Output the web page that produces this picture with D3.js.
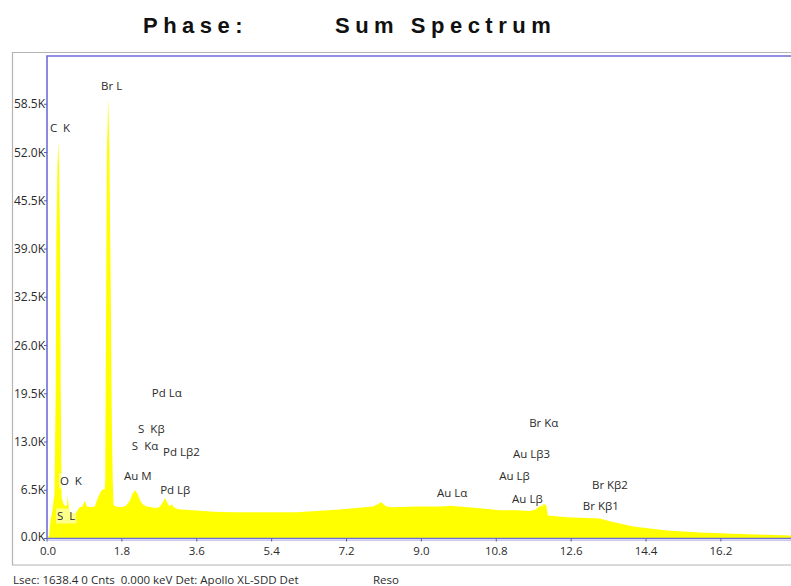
<!DOCTYPE html>
<html>
<head>
<meta charset="utf-8">
<script src="https://cdn.jsdelivr.net/npm/d3@7/dist/d3.min.js"></script>
<style>
  html, body { margin: 0; padding: 0; background: #fff; }
  svg { display: block; }
</style>
</head>
<body>
<svg id="chart" width="791" height="586"></svg>
<script>
// ---- Data ----
// Spectrum: energy in keV, counts
const energyKeV = [0.00, 0.05, 0.08, 0.13, 0.18, 0.21, 0.225, 0.25, 0.27, 0.29, 0.315, 0.33, 0.35,
  0.40, 0.45, 0.48, 0.50, 0.52, 0.55, 0.60, 0.70, 0.78, 0.85, 0.91, 0.96, 1.05, 1.15, 1.23, 1.31, 1.39,
  1.40, 1.42, 1.44, 1.47, 1.50, 1.53, 1.56, 1.58, 1.60, 1.65, 1.80, 1.90, 2.00, 2.05, 2.12, 2.18, 2.25,
  2.32, 2.40, 2.50, 2.60, 2.70, 2.78, 2.84, 2.90, 2.95, 3.00, 3.05, 3.15, 3.50, 4.00, 4.50, 5.00, 6.00,
  7.04, 7.30, 7.84, 8.04, 8.15, 8.30, 8.90, 9.50, 9.70, 9.90, 10.48, 10.89, 11.30, 11.60, 11.75, 11.85,
  11.92, 12.00, 12.04, 12.50, 13.29, 13.53, 14.09, 14.90, 15.70, 16.50, 17.30, 17.86, 18.00];
const counts = [0, 300, 2200, 3800, 6000, 20000, 40000, 50000, 53400, 50000, 40000, 20000, 5500,
  4600, 4300, 4500, 5800, 4400, 3600, 3400, 3500, 4200, 4300, 5100, 4300, 4200, 4300, 5600, 6500, 6700,
  8000, 30000, 52000, 59300, 52000, 35000, 15000, 8000, 4500, 4300, 4200, 4400, 5200, 6000, 6500, 6000, 5000,
  4500, 4300, 4200, 4100, 4200, 4800, 5500, 4700, 4300, 4600, 4200, 3950, 3800, 3600, 3550, 3550, 3550,
  3900, 4050, 4300, 4900, 4300, 4200, 4300, 4300, 4400, 4300, 4050, 3800, 3800, 3700, 3900, 4400,
  4650, 4500, 3100, 2870, 2700, 2330, 1620, 1080, 810, 630, 500, 400, 380];

// Peak labels: text, keV at label start, counts at label middle
const peakLabels = ["Br L", "C  K", "Pd Lα", "S  Kβ", "S  Kα", "Pd Lβ2", "Au M", "Pd Lβ", "O  K", "S  L",
  "Au Lα", "Au Lβ", "Au Lβ", "Au Lβ3", "Br Kα", "Br Kβ2", "Br Kβ1"];
const labelKeV = [1.30, 0.07, 2.52, 2.19, 2.04, 2.79, 1.85, 2.72, 0.31, 0.24,
  9.375, 11.18, 10.87, 11.20, 11.59, 13.10, 12.88];
const labelCounts = [60900, 55300, 19560, 14700, 12410, 11600, 8360, 6475, 7690, 2970,
  6070, 5260, 8360, 11330, 15510, 7150, 4320];

const xTicks = [0.0, 1.8, 3.6, 5.4, 7.2, 9.0, 10.8, 12.6, 14.4, 16.2];
const yTicks = [0, 6500, 13000, 19500, 26000, 32500, 39000, 45500, 52000, 58500];

const titleParts = ["Phase:", "Sum Spectrum"];
const footerParts = ["Lsec: 1638.4 0 Cnts  0.000 keV Det: Apollo XL-SDD Det", "Reso"];

// ---- Layout ----
const svg = d3.select("#chart");
const plotL = 47, plotT = 56, plotB = 538.5;
const x = d3.scaleLinear().domain([0, 18]).range([plotL, plotL + 18 * 41.6]);
const y = d3.scaleLinear().domain([0, 65000]).range([plotB, plotT]);

const blue = "#6e6ed6";
const textCol = "#2b2b2b";
const font = "'Open Sans', 'Noto Sans', sans-serif";

svg.append("rect").attr("width", 791).attr("height", 586).attr("fill", "#fff");

// Title
svg.append("text").attr("x", 143).attr("y", 33)
  .attr("font-family", "'Liberation Sans', Arial, sans-serif").attr("font-weight", "bold")
  .attr("font-size", 22).attr("letter-spacing", 5.5).attr("fill", "#111").text(titleParts[0]);
svg.append("text").attr("x", 335).attr("y", 33)
  .attr("font-family", "'Liberation Sans', Arial, sans-serif").attr("font-weight", "bold")
  .attr("font-size", 22).attr("letter-spacing", 5.5).attr("fill", "#111").text(titleParts[1]);

// Outer gray box
svg.append("path").attr("d", "M800,52.5 H12.5 V565 H800")
  .attr("fill", "none").attr("stroke", "#b4b4b4").attr("stroke-width", 1.2);

// Spectrum fill
const pts = energyKeV.map((e, i) => [e, counts[i]]);
const area = d3.area().x(d => x(d[0])).y0(y(0)).y1(d => y(d[1])).curve(d3.curveLinear);
svg.append("path").datum(pts).attr("d", area).attr("fill", "#ffff00").attr("stroke", "none");

// Plot frame
svg.append("path").attr("d", `M800,${plotT} H${plotL} V${plotB} H800`)
  .attr("fill", "none").attr("stroke", blue).attr("stroke-width", 1.6);
svg.append("line").attr("x1", plotL).attr("x2", 800).attr("y1", plotB + 2).attr("y2", plotB + 2)
  .attr("stroke", "#c9c9ef").attr("stroke-width", 1);

// X axis ticks & labels
const xa = svg.append("g");
xa.selectAll("line").data(xTicks).join("line")
  .attr("x1", d => x(d)).attr("x2", d => x(d)).attr("y1", plotB).attr("y2", plotB + 3)
  .attr("stroke", "#5a5aa8").attr("stroke-width", 1);
xa.selectAll("text").data(xTicks).join("text")
  .attr("x", d => x(d) + (d === 0 ? 1 : 0)).attr("y", plotB + 16).attr("text-anchor", "middle")
  .attr("font-family", font).attr("font-size", 11.5).attr("fill", textCol)
  .text(d => d.toFixed(1));

// Y axis ticks & labels
const ya = svg.append("g");
ya.selectAll("line").data(yTicks).join("line")
  .attr("x1", plotL - 3).attr("x2", plotL).attr("y1", d => y(d)).attr("y2", d => y(d))
  .attr("stroke", "#5a5aa8").attr("stroke-width", 1);
ya.selectAll("text").data(yTicks).join("text")
  .attr("x", plotL - 2).attr("y", d => y(d) - (d === 0 ? 1.5 : 0)).attr("dy", "0.35em").attr("text-anchor", "end")
  .attr("font-family", font).attr("font-size", 12).attr("fill", textCol)
  .text(d => (d / 1000).toFixed(1) + "K");

// Peak labels
const lg = svg.append("g");
peakLabels.forEach((t, i) => {
  const tx = lg.append("text").attr("x", x(labelKeV[i])).attr("y", y(labelCounts[i])).attr("dy", "0.35em")
    .attr("font-family", font).attr("font-size", 11.5).attr("fill", textCol)
    .style("white-space", "pre").text(t);
  const bb = tx.node().getBBox();
  lg.insert("rect", "text").attr("x", bb.x - 1).attr("y", bb.y).attr("width", bb.width + 2).attr("height", bb.height)
    .attr("fill", "#fff").attr("opacity", 0.55);
});

// Footer
svg.append("text").attr("x", 13).attr("y", 584).attr("font-family", font).attr("font-size", 11.5)
  .attr("fill", textCol).style("white-space", "pre").text(footerParts[0]);
svg.append("text").attr("x", 373).attr("y", 584).attr("font-family", font).attr("font-size", 11.5)
  .attr("fill", textCol).text(footerParts[1]);
</script>
</body>
</html>
